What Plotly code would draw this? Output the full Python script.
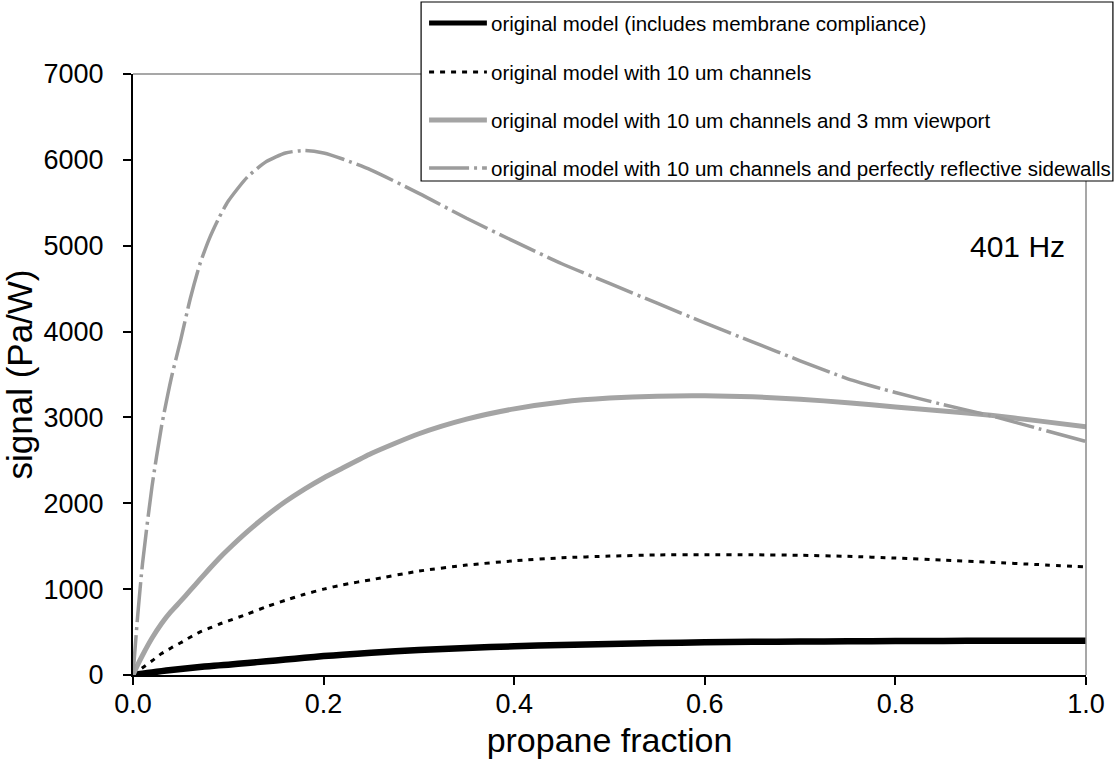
import plotly.graph_objects as go

# propane fraction sample points shared by all four model curves
propane_fraction = [0.0, 0.005, 0.01, 0.02, 0.03, 0.04, 0.05, 0.06, 0.07, 0.08, 0.09,
                    0.10, 0.12, 0.14, 0.16, 0.18, 0.20, 0.22, 0.25, 0.30, 0.35, 0.40,
                    0.45, 0.50, 0.55, 0.60, 0.65, 0.70, 0.75, 0.80, 0.85, 0.90, 0.95, 1.00]

# signal (Pa/W) for each model
original_model = [0, 8, 15, 30, 45, 58, 70, 82, 93, 103, 112,
                  120, 140, 160, 180, 200, 220, 235, 260, 290, 315, 335,
                  350, 362, 372, 380, 386, 390, 393, 395, 397, 398, 399, 400]
channels_10um = [0, 45, 85, 165, 250, 315, 375, 440, 500, 545, 590,
                 630, 710, 795, 870, 940, 1000, 1050, 1110, 1210, 1280, 1330,
                 1365, 1385, 1398, 1402, 1400, 1395, 1382, 1362, 1338, 1312, 1286, 1260]
viewport_3mm = [0, 120, 230, 430, 600, 740, 860, 985, 1110, 1235, 1355,
                1465, 1670, 1855, 2020, 2165, 2295, 2410, 2580, 2810, 2980, 3100,
                3180, 3225, 3248, 3252, 3240, 3212, 3172, 3122, 3075, 3025, 2960, 2890]
reflective_sidewalls = [0, 700, 1300, 2200, 2900, 3450, 3900, 4380, 4780, 5080, 5320,
                        5520, 5800, 5980, 6080, 6110, 6080, 6010, 5880, 5610, 5320, 5050,
                        4790, 4560, 4330, 4100, 3880, 3660, 3450, 3290, 3150, 3020, 2870, 2720]

legend_labels = [
    "original model (includes membrane compliance)",
    "original model with 10 um channels",
    "original model with 10 um channels and 3 mm viewport",
    "original model with 10 um channels and perfectly reflective sidewalls",
]

x_ticks = [0.0, 0.2, 0.4, 0.6, 0.8, 1.0]
x_ticktext = ["0.0", "0.2", "0.4", "0.6", "0.8", "1.0"]
y_ticks = [0, 1000, 2000, 3000, 4000, 5000, 6000, 7000]

FONT = "Liberation Sans, Arial, Helvetica, sans-serif"
W, H = 1117, 781
L, R, T, B = 133, 28, 74, 106

line_styles = [
    dict(color="black", width=6.5, dash="solid"),
    dict(color="black", width=3, dash="5px,6px"),
    dict(color="#a4a4a4", width=5, dash="solid"),
    dict(color="#9c9c9c", width=3.5, dash="40px,5px,3px,5px"),
]
series = [original_model, channels_10um, viewport_3mm, reflective_sidewalls]

fig = go.Figure()
for ys, style, name in zip(series, line_styles, legend_labels):
    fig.add_trace(go.Scatter(
        x=propane_fraction, y=ys, mode="lines", name=name,
        line=dict(shape="spline", smoothing=0.6, **style),
        showlegend=False,
    ))


def px_to_paper(px, py):
    return (px - L) / (W - L - R), (H - B - py) / (H - T - B)


shapes = []
annotations = []

# plot frame: thin grey top and right borders
shapes.append(dict(type="line", xref="paper", yref="paper", x0=0, x1=1, y0=1, y1=1,
                   line=dict(color="#8a8a8a", width=1.5)))
shapes.append(dict(type="line", xref="paper", yref="paper", x0=1, x1=1, y0=0, y1=1,
                   line=dict(color="#8a8a8a", width=1.5)))

# legend box
bx0, by0 = px_to_paper(422, 181)
bx1, by1 = px_to_paper(1116, 2)
shapes.append(dict(type="rect", xref="paper", yref="paper", x0=bx0, x1=bx1, y0=by0, y1=by1,
                   line=dict(color="black", width=1.2), fillcolor="white", layer="above"))
entry_y = [23, 72, 120, 168]
for ey, style, label in zip(entry_y, line_styles, legend_labels):
    sx0, sy = px_to_paper(430, ey)
    sx1, _ = px_to_paper(488, ey)
    shapes.append(dict(type="line", xref="paper", yref="paper", x0=sx0, x1=sx1, y0=sy, y1=sy,
                       line=dict(color=style["color"], width=min(style["width"], 5),
                                 dash=style["dash"]), layer="above"))
    tx, ty = px_to_paper(490, ey)
    annotations.append(dict(x=tx, y=ty, xref="paper", yref="paper", text=label,
                            showarrow=False, xanchor="left", yanchor="middle",
                            font=dict(family=FONT, size=20.5, color="black")))

ax, ay = px_to_paper(1020, 247)
annotations.append(dict(x=ax, y=ay, xref="paper", yref="paper", text="401 Hz",
                        showarrow=False, xanchor="center", yanchor="middle",
                        font=dict(family=FONT, size=30, color="black")))

fig.update_layout(
    width=W, height=H,
    margin=dict(l=L, r=R, t=T, b=B, pad=0),
    paper_bgcolor="white", plot_bgcolor="white",
    font=dict(family=FONT, color="black"),
    shapes=shapes, annotations=annotations,
    xaxis=dict(
        range=[0, 1], tickvals=x_ticks, ticktext=x_ticktext,
        ticks="outside", ticklen=8, tickwidth=1.5, tickcolor="black",
        showline=True, linecolor="black", linewidth=2,
        showgrid=False, zeroline=False,
        tickfont=dict(family=FONT, size=27),
        ticklabelstandoff=-4,
        title=dict(text="propane fraction", font=dict(family=FONT, size=34), standoff=10),
    ),
    yaxis=dict(
        range=[0, 7000], tickvals=y_ticks, tickformat="d",
        ticks="outside", ticklen=8, tickwidth=1.5, tickcolor="black",
        showline=True, linecolor="black", linewidth=2,
        showgrid=False, zeroline=False,
        tickfont=dict(family=FONT, size=27),
        ticklabelstandoff=14,
        title=dict(text="signal (Pa/W)", font=dict(family=FONT, size=35), standoff=6),
    ),
)

fig.write_html("out.html")
